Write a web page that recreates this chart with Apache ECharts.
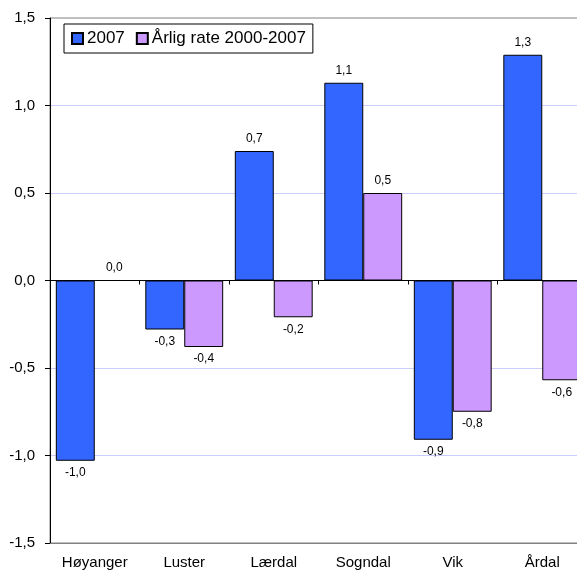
<!DOCTYPE html>
<html>
<head>
<meta charset="utf-8">
<script src="https://cdn.jsdelivr.net/npm/echarts@6/dist/echarts.min.js"></script>
<style>
  html, body { margin: 0; padding: 0; background: #fff; }
  #chart { width: 577px; height: 579px; }
</style>
</head>
<body>
<div id="chart"></div>
<script>
// kommuner
var categories = ["Høyanger", "Luster", "Lærdal", "Sogndal", "Vik", "Årdal"];
var seriesNames = ["2007", "Årlig rate 2000-2007"];
var values2007 = [-1.03, -0.28, 0.74, 1.13, -0.91, 1.29];
var valuesRate = [0.0, -0.38, -0.21, 0.50, -0.75, -0.57];
var colors = ["#3366ff", "#cc99ff"];

function comma(v) {
  return v.toFixed(1).replace(".", ",");
}

// label over positive bars, under negative ones
function withLabels(arr) {
  return arr.map(function (v) {
    return { value: v, label: { position: v >= 0 ? "top" : "bottom" } };
  });
}

function makeSeries(name, arr, color) {
  return {
    name: name,
    type: "bar",
    xAxisIndex: 0,
    barGap: "0%",
    barCategoryGap: "13%",
    itemStyle: { color: color, borderColor: "#000", borderWidth: 1 },
    label: {
      show: true,
      distance: 6,
      fontFamily: "Liberation Sans",
      fontSize: 12,
      color: "#000",
      formatter: function (p) { return comma(p.value); }
    },
    data: withLabels(arr)
  };
}

var chart = echarts.init(document.getElementById("chart"));
chart.setOption({
  animation: false,
  textStyle: { fontFamily: "Liberation Sans" },
  legend: {
    data: seriesNames,
    left: 64,
    top: 24,
    padding: [6, 7, 6, 7],
    itemGap: 11,
    itemWidth: 11,
    itemHeight: 11,
    icon: "rect",
    borderColor: "#000",
    borderWidth: 1,
    backgroundColor: "#fff",
    textStyle: { fontSize: 17, color: "#000", padding: [0, 0, 0, -1] }
  },
  grid: {
    left: 50,
    top: 18,
    bottom: 36,
    width: 537,
    outerBoundsMode: "none",
    show: true,
    borderColor: "#808080",
    borderWidth: 1
  },
  xAxis: [
    {
      type: "category",
      data: categories,
      position: "bottom",
      axisLine: { onZero: true, lineStyle: { color: "#000", width: 1 } },
      axisTick: { show: true, interval: 0, length: 4, lineStyle: { color: "#000" } },
      axisLabel: { show: false },
      splitLine: { show: false }
    },
    {
      type: "category",
      data: categories,
      position: "bottom",
      axisLine: { onZero: false, lineStyle: { color: "#808080", width: 1 } },
      axisTick: { show: false },
      axisLabel: { fontSize: 15, color: "#000", margin: 12, interval: 0 }
    }
  ],
  yAxis: {
    type: "value",
    min: -1.5,
    max: 1.5,
    interval: 0.5,
    axisLine: { show: true, onZero: false, lineStyle: { color: "#000" } },
    axisTick: { show: true, length: 5, lineStyle: { color: "#000" } },
    axisLabel: {
      fontSize: 15,
      color: "#000",
      margin: 15,
      formatter: function (v) { return comma(v); }
    },
    splitLine: {
      showMinLine: false,
      showMaxLine: false,
      lineStyle: { color: "#ccccff", width: 1 }
    }
  },
  series: [
    makeSeries(seriesNames[0], values2007, colors[0]),
    makeSeries(seriesNames[1], valuesRate, colors[1])
  ]
});
</script>
</body>
</html>
